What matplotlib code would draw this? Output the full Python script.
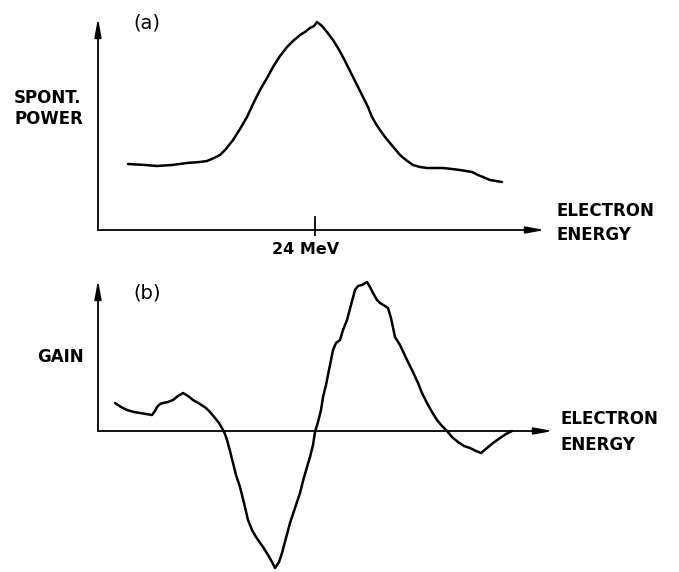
"""
Spontaneous emission and gain vs electron energy, panels (a) and (b)
"""
import matplotlib
matplotlib.use('Agg')
import matplotlib.pyplot as plt

# Panel (a) - spontaneous power, arbitrary units
energy_a = [30, 47, 59, 74, 89, 102, 109, 116, 122, 128,
            135, 142, 149, 155, 162, 169, 175, 182, 189, 195,
            202, 207, 212, 216, 219, 224, 229, 235, 240, 245,
            250, 255, 260, 265, 270, 274, 278, 282, 287, 292,
            297, 302, 308, 315, 322, 329, 337, 345, 354, 362,
            368, 374, 380, 385, 392, 398, 404]
power_a = [66, 65, 64, 65, 67, 68, 69, 72, 75, 81,
           90, 101, 113, 126, 140, 152, 163, 174, 183, 189,
           195, 198, 202, 204, 208, 204, 198, 190, 182, 173,
           163, 153, 143, 133, 123, 113, 106, 100, 93, 87,
           81, 75, 70, 65, 63, 62, 62, 62, 61, 60,
           59, 58, 55, 53, 50, 49, 48]
tick_a = 217          # position of the 24 MeV mark
tick_label = '24 MeV'

# Panel (b) - gain, arbitrary units
energy_b = [17, 23, 29, 36, 42, 48, 54, 57, 59, 62,
            65, 70, 75, 80, 85, 90, 95, 102, 108, 112,
            117, 121, 124, 127, 129, 132, 135, 138, 142, 146,
            150, 154, 158, 165, 170, 174, 177, 181, 184, 188,
            192, 197, 202, 205, 209, 212, 215, 217, 220, 223,
            225, 228, 231, 235, 238, 242, 245, 249, 253, 257,
            260, 264, 269, 272, 275, 279, 282, 287, 290, 293,
            297, 302, 309, 315, 320, 324, 329, 334, 339, 344,
            349, 354, 360, 366, 372, 378, 383, 389, 395, 402,
            408, 414]
gain_b = [28, 24, 21, 19, 18, 17, 16, 20, 24, 27,
          28, 29, 31, 35, 38, 35, 31, 27, 23, 19,
          13, 8, 3, -3, -9, -20, -32, -44, -56, -72,
          -89, -99, -106, -116, -124, -131, -137, -131, -122, -107,
          -92, -77, -62, -50, -36, -26, -14, -1, 9, 21,
          34, 46, 61, 81, 88, 91, 101, 111, 126, 141,
          145, 146, 149, 144, 138, 131, 128, 125, 123, 113,
          94, 86, 71, 59, 48, 38, 28, 19, 11, 5,
          0, -6, -11, -15, -17, -20, -22, -17, -12, -7,
          -3, 0]

W, H = 679, 572
fig = plt.figure(figsize=(W / 100, H / 100), dpi=100)

def px(x, y):
    # pixel position -> figure fraction
    return x / W, 1 - y / H

lab = dict(fontsize=12, fontweight='bold', family='DejaVu Sans')
arrow = dict(arrowstyle='-|>,head_length=1.1,head_width=0.2', lw=1.3,
             color='black', shrinkA=0, shrinkB=0)

# ---- panel (a)
ax = fig.add_axes([98 / W, 1 - 230 / H, 447 / W, 212 / H])
ax.set_xlim(0, 447)
ax.set_ylim(0, 212)
ax.axis('off')
ax.plot(energy_a, power_a, color='black', lw=1.8, solid_capstyle='round')
ax.annotate('', xy=(447, 0), xytext=(0, 0), arrowprops=arrow, annotation_clip=False)
ax.annotate('', xy=(0, 212), xytext=(0, 0), arrowprops=arrow, annotation_clip=False)
ax.plot([tick_a, tick_a], [-5, 13], color='black', lw=1.3, clip_on=False)

fig.text(*px(133, 23), '(a)', fontsize=14, ha='left', va='center')
fig.text(*px(14, 98), 'SPONT.', ha='left', va='center', **lab)
fig.text(*px(14, 119), 'POWER', ha='left', va='center', **lab)
fig.text(*px(306, 249), tick_label, ha='center', va='center', fontsize=11.5,
         fontweight='bold')
fig.text(*px(557, 211), 'ELECTRON', ha='left', va='center', **lab)
fig.text(*px(557, 235), 'ENERGY', ha='left', va='center', **lab)

# ---- panel (b)
ax = fig.add_axes([98 / W, 0, 455 / W, 292 / H])
ax.set_xlim(0, 455)
ax.set_ylim(-141, 151)
ax.axis('off')
ax.plot(energy_b, gain_b, color='black', lw=1.8, solid_capstyle='round')
ax.annotate('', xy=(455, 0), xytext=(0, 0), arrowprops=arrow, annotation_clip=False)
ax.annotate('', xy=(0, 151), xytext=(0, 0), arrowprops=arrow, annotation_clip=False)

fig.text(*px(133, 293), '(b)', fontsize=14, ha='left', va='center')
fig.text(*px(37, 357), 'GAIN', ha='left', va='center', **lab)
fig.text(*px(561, 419), 'ELECTRON', ha='left', va='center', **lab)
fig.text(*px(561, 445), 'ENERGY', ha='left', va='center', **lab)

fig.savefig('out.png', dpi=100)
